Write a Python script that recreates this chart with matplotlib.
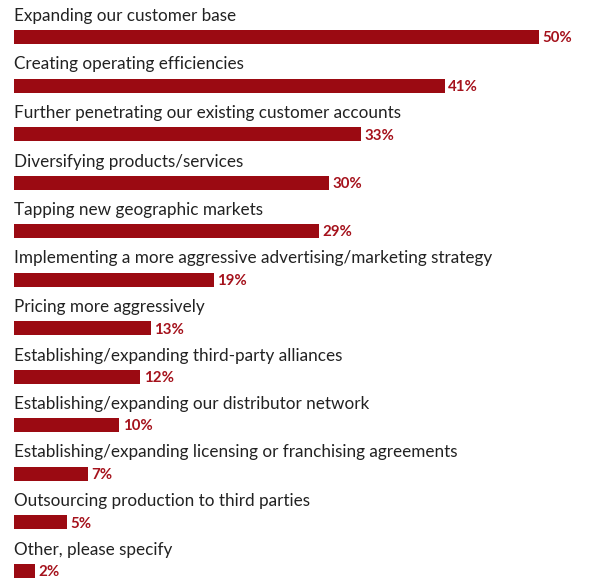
import matplotlib
matplotlib.use("Agg")
import matplotlib.pyplot as plt

categories = [
    "Expanding our customer base",
    "Creating operating efficiencies",
    "Further penetrating our existing customer accounts",
    "Diversifying products/services",
    "Tapping new geographic markets",
    "Implementing a more aggressive advertising/marketing strategy",
    "Pricing more aggressively",
    "Establishing/expanding third-party alliances",
    "Establishing/expanding our distributor network",
    "Establishing/expanding licensing or franchising agreements",
    "Outsourcing production to third parties",
    "Other, please specify",
]
values = [50, 41, 33, 30, 29, 19, 13, 12, 10, 7, 5, 2]

W, H, DPI = 589, 578, 100
BAR_COLOR = "#9b0a12"
VALUE_COLOR = "#a5121c"
LABEL_COLOR = "#222222"

fig = plt.figure(figsize=(W / DPI, H / DPI), dpi=DPI)
ax = fig.add_axes([14 / W, 0, 1 - 14 / W, 1])
px_per_pct = 10.5
ax.set_xlim(0, (W - 14) / px_per_pct)
ax.set_ylim(H, 0)
ax.axis("off")

row_gap = 48.5
first_center = 37.0
bar_h = 14

for i, (cat, val) in enumerate(zip(categories, values)):
    yc = first_center + i * row_gap
    ax.barh(yc, val, height=bar_h, color=BAR_COLOR, left=0)
    ax.text(0, yc - 21, cat, fontsize=12.3, family="Lato", color=LABEL_COLOR,
            va="center", ha="left")
    ax.text(val + 0.35, yc + 1.5, f"{val}%", fontsize=10.8, family="Lato",
            fontweight="bold", color=VALUE_COLOR, va="center", ha="left")

fig.savefig("out.png", dpi=DPI)
